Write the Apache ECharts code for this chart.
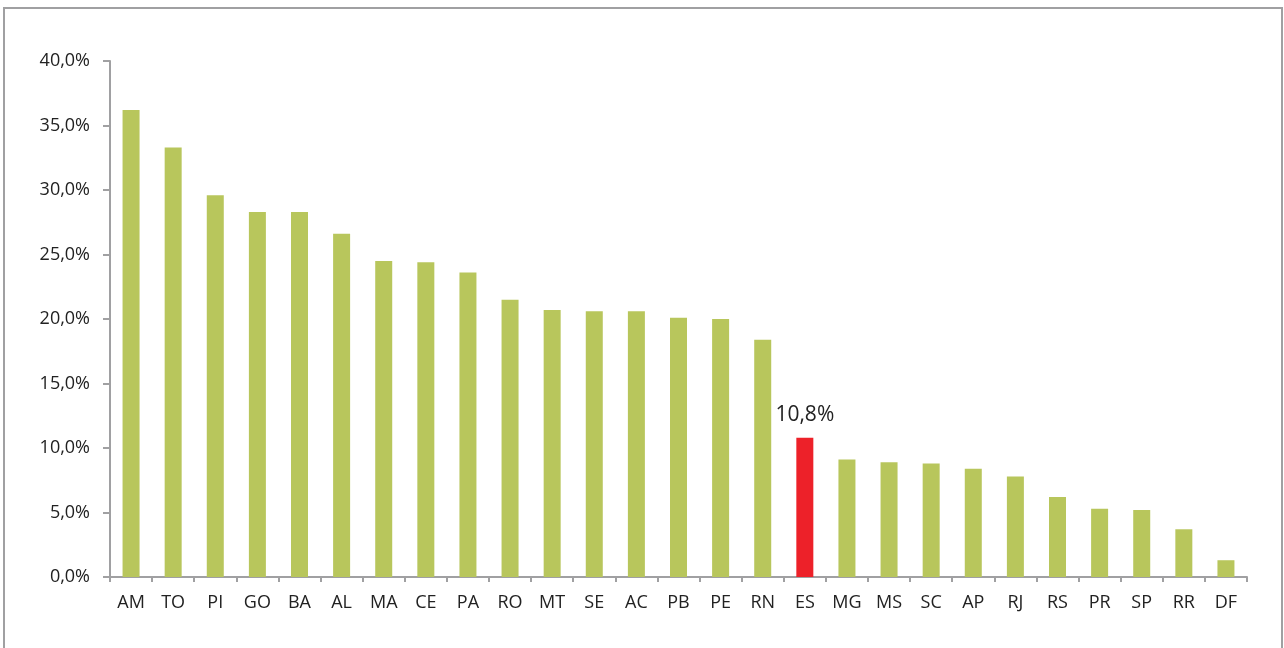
<!DOCTYPE html>
<html lang="pt">
<head>
    <meta charset="UTF-8">
    <title>Estados</title>
    <script src="https://cdn.jsdelivr.net/npm/echarts@6/dist/echarts.min.js"></script>
    <style>
        html, body { margin: 0; padding: 0; background: #fff; }
    </style>
</head>
<body>
<div id="main" style="width: 1284px;height:648px;"></div>
<script type="text/javascript">
    var categories = ['AM','TO','PI','GO','BA','AL','MA','CE','PA','RO','MT','SE','AC','PB','PE','RN','ES','MG','MS','SC','AP','RJ','RS','PR','SP','RR','DF'];
    var values = [36.2, 33.3, 29.6, 28.3, 28.3, 26.6, 24.5, 24.4, 23.6, 21.5, 20.7, 20.6, 20.6, 20.1, 20.0, 18.4, 10.8, 9.1, 8.9, 8.8, 8.4, 7.8, 6.2, 5.3, 5.2, 3.7, 1.3];
    var destaque = 'ES';

    var verde = '#b8c65c';
    var vermelho = '#ed2129';
    var cinza = '#a0a0a2';

    function pct(v) {
        return v.toFixed(1).replace('.', ',') + '%';
    }

    var dados = values.map(function (v, i) {
        var item = { value: v, itemStyle: { color: verde } };
        if (categories[i] === destaque) {
            item.itemStyle = { color: vermelho };
            item.label = {
                show: true,
                position: 'top',
                distance: 12,
                formatter: function (p) { return pct(p.value); },
                color: '#222',
                fontSize: 21,
                fontFamily: 'Open Sans'
            };
        }
        return item;
    });

    var myChart = echarts.init(document.getElementById('main'));
    var option = {
        animation: false,
        textStyle: { fontFamily: 'Open Sans' },
        graphic: [{
            type: 'rect',
            shape: { x: 4, y: 8, width: 1278, height: 680 },
            style: { fill: 'none', stroke: cinza, lineWidth: 2 }
        }],
        grid: { left: 110, right: 37, top: 61, bottom: 71 },
        xAxis: {
            type: 'category',
            data: categories,
            axisLine: { lineStyle: { color: cinza, width: 2 } },
            axisTick: { show: true, length: 5, lineStyle: { color: cinza, width: 2 } },
            axisLabel: { color: '#222', fontSize: 18, margin: 17, interval: 0 }
        },
        yAxis: {
            type: 'value',
            min: 0,
            max: 40,
            interval: 5,
            axisLine: { show: true, lineStyle: { color: cinza, width: 2 } },
            axisTick: { show: true, length: 7, lineStyle: { color: cinza, width: 2 } },
            splitLine: { show: false },
            axisLabel: { color: '#222', fontSize: 18, margin: 20, formatter: pct }
        },
        series: [{
            type: 'bar',
            barWidth: 17,
            data: dados
        }]
    };
    myChart.setOption(option);
</script>
</body>
</html>
